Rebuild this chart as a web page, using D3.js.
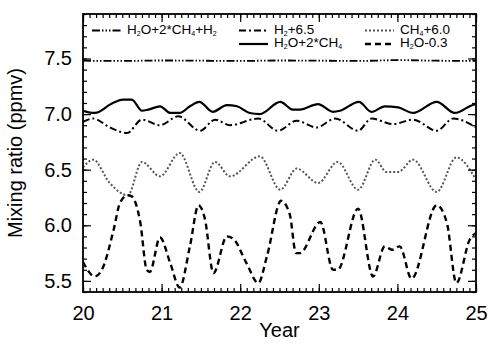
<!DOCTYPE html>
<html>
<head>
<meta charset="utf-8">
<script src="https://cdn.jsdelivr.net/npm/d3@7"></script>
<style>
  body { margin: 0; background: #fff; }
  svg { display: block; font-family: "Liberation Sans", Arial, Helvetica, sans-serif; }
</style>
</head>
<body>
<svg id="chart" width="490" height="345"></svg>
<script>
// values (year, ppmv)
const totalYears = [20.0, 20.5, 21.0, 21.5, 22.0, 22.5, 23.0, 23.5, 24.0, 24.5, 25.0];
const totalVals = [7.48, 7.478, 7.482, 7.48, 7.478, 7.482, 7.48, 7.478, 7.485, 7.48, 7.478];

const h2Years = [20.0, 20.13, 20.34, 20.56, 20.75, 20.98, 21.21, 21.49, 21.68, 21.87, 22.23,
  22.48, 22.72, 22.97, 23.21, 23.5, 23.67, 23.94, 24.2, 24.5, 24.71, 25.0];
const h2Vals = [6.93, 6.96, 6.88, 6.83, 6.95, 6.9, 6.98, 6.85, 6.95, 6.9, 6.96,
  6.85, 6.94, 6.88, 6.96, 6.85, 6.96, 6.91, 6.95, 6.85, 6.96, 6.88];

const ch4Years = [20.0, 20.13, 20.34, 20.57, 20.75, 20.98, 21.23, 21.48, 21.68, 21.87, 22.25,
  22.51, 22.72, 22.99, 23.24, 23.5, 23.72, 23.86, 24.01, 24.2, 24.5, 24.75, 25.0];
const ch4Vals = [6.52, 6.59, 6.38, 6.27, 6.57, 6.44, 6.65, 6.3, 6.57, 6.44, 6.62,
  6.32, 6.51, 6.38, 6.57, 6.32, 6.59, 6.48, 6.48, 6.59, 6.3, 6.61, 6.41];

const h2o2ch4Years = [20.0, 20.15, 20.38, 20.51, 20.62, 20.75, 20.83, 20.98, 21.11, 21.23, 21.36,
  21.48, 21.65, 21.83, 21.96, 22.12, 22.25, 22.51, 22.67, 22.76, 22.99, 23.18, 23.27, 23.51,
  23.67, 23.84, 24.01, 24.2, 24.5, 24.73, 24.95, 25.0];
const h2o2ch4Vals = [7.03, 7.01, 7.1, 7.13, 7.13, 7.03, 7.04, 7.07, 7.01, 7.01, 7.07,
  7.11, 7.02, 7.08, 7.07, 7.01, 7.0, 7.11, 7.04, 7.04, 7.09, 7.02, 7.03, 7.11,
  7.02, 7.07, 7.06, 7.01, 7.11, 7.01, 7.08, 7.09];

const h2oYears = [20.0, 20.15, 20.24, 20.39, 20.47, 20.57, 20.62, 20.73, 20.81, 20.85, 20.98,
  21.11, 21.23, 21.36, 21.47, 21.55, 21.66, 21.83, 21.91, 22.08, 22.23, 22.34, 22.52, 22.63,
  22.71, 22.76, 23.02, 23.18, 23.24, 23.5, 23.69, 23.84, 23.93, 24.03, 24.18, 24.5, 24.63,
  24.75, 24.92, 25.0];
const h2oVals = [5.67, 5.54, 5.6, 5.96, 6.2, 6.27, 6.26, 6.02, 5.6, 5.58, 5.89,
  5.66, 5.44, 5.81, 6.18, 6.06, 5.57, 5.9, 5.88, 5.66, 5.48, 5.72, 6.22, 6.1,
  5.75, 5.75, 6.03, 5.6, 5.6, 6.15, 5.54, 5.81, 5.78, 5.81, 5.52, 6.18, 6.02,
  5.48, 5.87, 5.93];

const xTicks = [20, 21, 22, 23, 24, 25];
const yTicks = [5.5, 6.0, 6.5, 7.0, 7.5];

const series = [
  { name: 'H_2O+2*CH_4+H_2', years: totalYears, vals: totalVals, dash: '8,2,1.5,2,1.5,2,1.5,2', color: '#000', width: 1.8, row: 0, col: 0 },
  { name: 'H_2+6.5', years: h2Years, vals: h2Vals, dash: '7,3,2,3', color: '#000', width: 2, row: 0, col: 1 },
  { name: 'CH_4+6.0', years: ch4Years, vals: ch4Vals, dash: '2,2', color: '#555', width: 2, row: 0, col: 2 },
  { name: 'H_2O+2*CH_4', years: h2o2ch4Years, vals: h2o2ch4Vals, dash: null, color: '#000', width: 2.2, row: 1, col: 1 },
  { name: 'H_2O-0.3', years: h2oYears, vals: h2oVals, dash: '6,4', color: '#000', width: 2.4, row: 1, col: 2 }
];

const svg = d3.select('#chart');
const margin = { top: 14, right: 14, bottom: 53, left: 83 };
const width = 490 - margin.left - margin.right;
const height = 345 - margin.top - margin.bottom;

const x = d3.scaleLinear().domain([20, 25]).range([0, width]);
const y = d3.scaleLinear().domain([5.4, 7.9]).range([height, 0]);

const g = svg.append('g').attr('transform', 'translate(' + margin.left + ',' + margin.top + ')');

const line = d3.line()
  .x(function(d) { return x(d[0]); })
  .y(function(d) { return y(d[1]); })
  .curve(d3.curveMonotoneX);

g.append('defs').append('clipPath').attr('id', 'clip')
  .append('rect').attr('width', width).attr('height', height);

const lines = g.append('g').attr('clip-path', 'url(#clip)');
series.forEach(function(s) {
  const pts = s.years.map(function(yr, i) { return [yr, s.vals[i]]; });
  lines.append('path')
    .datum(pts)
    .attr('d', line)
    .attr('fill', 'none')
    .attr('stroke', s.color)
    .attr('stroke-width', s.width)
    .attr('stroke-dasharray', s.dash)
    .attr('stroke-linejoin', 'round');
});

// axes: ticks point inward on all four sides
const xMinor = d3.range(0, 61).map(function(i) { return 20 + i / 12; });
const yMinor = d3.range(54, 80).map(function(i) { return i / 10; });

function styleAxis(sel) {
  sel.select('.domain').remove();
  sel.selectAll('line').attr('stroke', '#000').attr('stroke-width', 1.2);
  sel.selectAll('text').attr('font-size', 20).attr('fill', '#000').attr('font-family', null);
}

function ticksOnly(axis) {
  return function(sel) {
    sel.call(axis);
    sel.select('.domain').remove();
    sel.selectAll('text').remove();
    sel.selectAll('line').attr('stroke', '#000').attr('stroke-width', 1.2);
  };
}

g.append('g').attr('transform', 'translate(0,' + height + ')')
  .call(d3.axisBottom(x).tickValues(xTicks).tickFormat(d3.format('d')).tickSize(-8).tickPadding(14))
  .call(styleAxis);
g.append('g').attr('transform', 'translate(0,' + height + ')')
  .call(ticksOnly(d3.axisBottom(x).tickValues(xMinor).tickSize(-4)));
g.append('g')
  .call(ticksOnly(d3.axisTop(x).tickValues(xTicks).tickSize(-8)));
g.append('g')
  .call(ticksOnly(d3.axisTop(x).tickValues(xMinor).tickSize(-4)));

g.append('g')
  .call(d3.axisLeft(y).tickValues(yTicks).tickFormat(d3.format('.1f')).tickSize(-8).tickPadding(11))
  .call(styleAxis);
g.append('g')
  .call(ticksOnly(d3.axisLeft(y).tickValues(yMinor).tickSize(-4)));
g.append('g').attr('transform', 'translate(' + width + ',0)')
  .call(ticksOnly(d3.axisRight(y).tickValues(yTicks).tickSize(-8)));
g.append('g').attr('transform', 'translate(' + width + ',0)')
  .call(ticksOnly(d3.axisRight(y).tickValues(yMinor).tickSize(-4)));

g.append('rect')
  .attr('width', width)
  .attr('height', height)
  .attr('fill', 'none')
  .attr('stroke', '#000')
  .attr('stroke-width', 1.8);

// axis titles
g.append('text')
  .attr('x', width / 2)
  .attr('y', height + 45)
  .attr('text-anchor', 'middle')
  .attr('font-size', 20)
  .text('Year');

g.append('text')
  .attr('transform', 'translate(' + (-61) + ',' + (height / 2) + ') rotate(-90)')
  .attr('text-anchor', 'middle')
  .attr('font-size', 20)
  .text('Mixing ratio (ppmv)');

// legend
const colX = [9, 156, 282];
const rowY = [19.5, 33];
const legend = g.append('g');
series.forEach(function(s) {
  const lx = colX[s.col];
  const ly = rowY[s.row];
  legend.append('line')
    .attr('x1', lx).attr('x2', lx + 29)
    .attr('y1', ly - 3).attr('y2', ly - 3)
    .attr('stroke', s.color)
    .attr('stroke-width', s.width)
    .attr('stroke-dasharray', s.dash);
  const t = legend.append('text')
    .attr('x', lx + 35)
    .attr('y', ly)
    .attr('font-size', 13.5);
  let shift = 0;
  s.name.split(/(_\d)/).forEach(function(part) {
    if (!part) return;
    if (part[0] === '_') {
      t.append('tspan').attr('font-size', 7).attr('dy', 2 - shift).text(part.slice(1));
      shift = 2;
    } else {
      t.append('tspan').attr('dy', -shift).text(part);
      shift = 0;
    }
  });
});
</script>
</body>
</html>
